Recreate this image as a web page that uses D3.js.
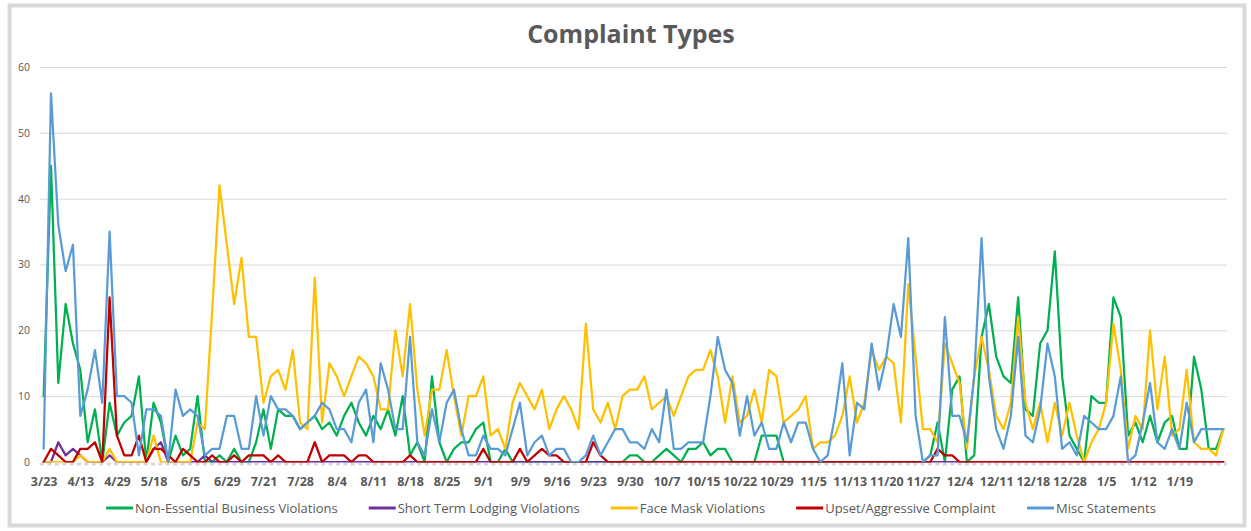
<!DOCTYPE html>
<html>
<head>
<meta charset="utf-8">
<script src="https://cdn.jsdelivr.net/npm/d3@7"></script>
<style>
  body { margin: 0; background: #fff; }
  svg { display: block; font-family: "Open Sans", sans-serif; }
</style>
</head>
<body>
<svg id="chart" width="1251" height="531"></svg>
<script>
// x axis labels, one every 5 categories
const tickLabels = ['3/23', '4/13', '4/29', '5/18', '6/5', '6/29', '7/21', '7/28', '8/4', '8/11',
  '8/18', '8/25', '9/1', '9/9', '9/16', '9/23', '9/30', '10/7', '10/15', '10/22', '10/29', '11/5',
  '11/13', '11/20', '11/27', '12/4', '12/11', '12/18', '12/28', '1/5', '1/12', '1/19'];

const nonEssential = [
  10, 45, 12, 24, 18, 14, 3, 8, 0, 9,
  4, 6, 7, 13, 0, 9, 6, 0, 4, 1,
  2, 10, 0, 0, 1, 0, 2, 0, 0, 3,
  8, 2, 8, 7, 7, 5, 6, 7, 5, 6,
  4, 7, 9, 6, 4, 7, 5, 8, 4, 10,
  1, 3, 0, 13, 3, 0, 2, 3, 3, 5,
  6, 0, 0, 2, 0, 0, 0, 0, 0, 0,
  0, 0, 0, 0, 0, 0, 0, 0, 0, 0,
  1, 1, 0, 0, 1, 2, 1, 0, 2, 2,
  3, 1, 2, 2, 0, 0, 0, 0, 4, 4,
  4, 0, 0, 0, 0, 0, 0, 0, 0, 0,
  0, 0, 0, 0, 0, 0, 0, 0, 0, 0,
  0, 1, 6, 0, 11, 13, 0, 1, 19, 24,
  16, 13, 12, 25, 8, 7, 18, 20, 32, 13,
  4, 2, 0, 10, 9, 9, 25, 22, 4, 6,
  3, 7, 3, 6, 7, 2, 2, 16, 11, 2,
  2, 5];

const shortTerm = [
  0, 0, 3, 1, 2, 1, 0, 0, 0, 1,
  0, 0, 0, 0, 0, 2, 3, 0, 0, 0,
  0, 0, 1, 0, 0, 0, 0, 0, 0, 0,
  0, 0, 0, 0, 0, 0, 0, 0, 0, 0,
  0, 0, 0, 0, 0, 0, 0, 0, 0, 0,
  0, 0, 0, 0, 0, 0, 0, 0, 0, 0,
  0, 0, 0, 0, 0, 0, 0, 0, 0, 0,
  0, 0, 0, 0, 0, 0, 0, 0, 0, 0,
  0, 0, 0, 0, 0, 0, 0, 0, 0, 0,
  0, 0, 0, 0, 0, 0, 0, 0, 0, 0,
  0, 0, 0, 0, 0, 0, 0, 0, 0, 0,
  0, 0, 0, 0, 0, 0, 0, 0, 0, 0,
  0, 0, 0, 0, 0, 0, 0, 0, 0, 0,
  0, 0, 0, 0, 0, 0, 0, 0, 0, 0,
  0, 0, 0, 0, 0, 0, 0, 0, 0, 0,
  0, 0, 0, 0, 0, 0, 0, 0, 0, 0,
  0, 0];

const faceMask = [
  0, 0, 0, 0, 0, 1, 0, 0, 0, 2,
  0, 0, 0, 0, 0, 4, 0, 0, 0, 0,
  0, 6, 5, 23, 42, 33, 24, 31, 19, 19,
  9, 13, 14, 11, 17, 6, 5, 28, 6, 15,
  13, 10, 13, 16, 15, 13, 8, 8, 20, 13,
  24, 11, 4, 11, 11, 17, 10, 4, 10, 10,
  13, 4, 5, 2, 9, 12, 10, 8, 11, 5,
  8, 10, 8, 5, 21, 8, 6, 9, 5, 10,
  11, 11, 13, 8, 9, 10, 7, 10, 13, 14,
  14, 17, 13, 6, 13, 6, 7, 11, 6, 14,
  13, 6, 7, 8, 10, 2, 3, 3, 4, 7,
  13, 6, 9, 17, 14, 16, 15, 6, 27, 16,
  5, 5, 3, 18, 15, 12, 2, 13, 19, 14,
  7, 5, 9, 22, 9, 5, 9, 3, 9, 4,
  9, 4, 0, 3, 5, 9, 21, 14, 2, 7,
  5, 20, 8, 16, 4, 5, 14, 3, 2, 2,
  1, 5];

const upset = [
  0, 2, 1, 0, 0, 2, 2, 3, 0, 25,
  4, 1, 1, 4, 0, 2, 2, 1, 0, 2,
  1, 0, 0, 1, 0, 0, 1, 0, 1, 1,
  1, 0, 1, 0, 0, 0, 0, 3, 0, 1,
  1, 1, 0, 1, 1, 0, 0, 0, 0, 0,
  1, 0, 0, 0, 0, 0, 0, 0, 0, 0,
  2, 0, 0, 0, 0, 2, 0, 1, 2, 1,
  1, 0, 0, 0, 0, 3, 1, 0, 0, 0,
  0, 0, 0, 0, 0, 0, 0, 0, 0, 0,
  0, 0, 0, 0, 0, 0, 0, 0, 0, 0,
  0, 0, 0, 0, 0, 0, 0, 0, 0, 0,
  0, 0, 0, 0, 0, 0, 0, 0, 0, 0,
  0, 0, 2, 1, 1, 0, 0, 0, 0, 0,
  0, 0, 0, 0, 0, 0, 0, 0, 0, 0,
  0, 0, 0, 0, 0, 0, 0, 0, 0, 0,
  0, 0, 0, 0, 0, 0, 0, 0, 0, 0,
  0, 0];

const misc = [
  2, 56, 36, 29, 33, 7, 11, 17, 9, 35,
  10, 10, 9, 1, 8, 8, 7, 0, 11, 7,
  8, 7, 1, 2, 2, 7, 7, 2, 2, 10,
  4, 10, 8, 8, 7, 5, 6, 7, 9, 8,
  5, 5, 3, 9, 11, 3, 15, 11, 5, 5,
  19, 3, 1, 8, 3, 9, 11, 5, 1, 1,
  4, 2, 2, 1, 5, 9, 1, 3, 4, 1,
  2, 2, 0, 0, 1, 4, 1, 3, 5, 5,
  3, 3, 2, 5, 3, 11, 2, 2, 3, 3,
  3, 10, 19, 14, 12, 4, 10, 4, 6, 2,
  2, 6, 3, 6, 6, 2, 0, 1, 7, 15,
  1, 9, 8, 18, 11, 16, 24, 19, 34, 7,
  0, 1, 1, 22, 7, 7, 3, 13, 34, 13,
  5, 2, 7, 19, 4, 3, 8, 18, 13, 2,
  3, 1, 7, 6, 5, 5, 7, 13, 0, 1,
  6, 12, 3, 2, 5, 2, 9, 3, 5, 5,
  5, 5];

const yTicks = [0, 10, 20, 30, 40, 50, 60];

const series = [
  {name: 'Non-Essential Business Violations', values: nonEssential, color: '#00b050'},
  {name: 'Short Term Lodging Violations', values: shortTerm, color: '#7030a0'},
  {name: 'Face Mask Violations', values: faceMask, color: '#ffc000'},
  {name: 'Upset/Aggressive Complaint', values: upset, color: '#c00000'},
  {name: 'Misc Statements', values: misc, color: '#5b9bd5'}
];

const W = 1251, H = 531;
const plot = {left: 40, right: 1227, top: 67, bottom: 462};
const textColor = '#595959';

const svg = d3.select('#chart');

// outer frame
svg.append('rect')
  .attr('x', 9.5).attr('y', 5.5)
  .attr('width', W - 16).attr('height', H - 11)
  .attr('fill', '#fff')
  .attr('stroke', '#d9d9d9')
  .attr('stroke-width', 4);

// title
svg.append('text')
  .attr('x', 631).attr('y', 43)
  .attr('text-anchor', 'middle')
  .style('font-size', '25px')
  .style('font-weight', 'bold')
  .attr('fill', textColor)
  .text('Complaint Types');

const categories = d3.range(misc.length);

const x = d3.scalePoint()
  .domain(categories)
  .range([plot.left, plot.right])
  .padding(0.5);

const y = d3.scaleLinear()
  .domain([0, 60])
  .range([plot.bottom, plot.top]);

// gridlines + y labels
svg.append('g')
  .attr('transform', 'translate(' + plot.left + ',0)')
  .call(d3.axisLeft(y).tickValues(yTicks).tickSize(-(plot.right - plot.left)).tickPadding(10))
  .call(g => g.select('.domain').remove())
  .call(g => g.selectAll('.tick line')
    .attr('stroke', '#d9d9d9')
    .attr('stroke-width', 1)
    .attr('display', d => d === 0 ? 'none' : null))
  .call(g => g.selectAll('.tick text')
    .attr('fill', textColor)
    .style('font-size', '10.5px')
    .style('font-family', '"Open Sans", sans-serif'));

// x axis: dashed baseline + labels
svg.append('line')
  .attr('x1', plot.left).attr('x2', plot.right)
  .attr('y1', plot.bottom + 2).attr('y2', plot.bottom + 2)
  .attr('stroke', '#d9d9d9')
  .attr('stroke-width', 3)
  .attr('stroke-dasharray', '4 3.4');

svg.append('g')
  .attr('transform', 'translate(0,' + (plot.bottom + 12) + ')')
  .call(d3.axisBottom(x)
    .tickValues(categories.filter(d => d % 5 === 0))
    .tickFormat(d => tickLabels[d / 5])
    .tickSize(0))
  .call(g => g.select('.domain').remove())
  .call(g => g.selectAll('.tick text')
    .attr('fill', textColor)
    .style('font-size', '12.5px')
    .style('font-weight', 'bold')
    .style('font-family', '"Open Sans", sans-serif'));

// clip so lines sitting on zero show only their upper half, like the original
svg.append('clipPath').attr('id', 'plotClip')
  .append('rect')
  .attr('x', 0).attr('y', 0)
  .attr('width', W).attr('height', plot.bottom + 0.5);

const line = d3.line()
  .x((d, i) => x(i))
  .y(d => y(d));

svg.append('g')
  .attr('clip-path', 'url(#plotClip)')
  .selectAll('path')
  .data(series)
  .enter()
  .append('path')
  .attr('d', d => line(d.values))
  .attr('fill', 'none')
  .attr('stroke', d => d.color)
  .attr('stroke-width', 2.25)
  .attr('stroke-linejoin', 'round')
  .attr('stroke-linecap', 'round');

// legend, centred under the plot
const legend = svg.append('g');
const items = legend.selectAll('g')
  .data(series)
  .enter()
  .append('g');

items.append('line')
  .attr('x1', 0).attr('x2', 27)
  .attr('y1', 0).attr('y2', 0)
  .attr('stroke', d => d.color)
  .attr('stroke-width', 3);

items.append('text')
  .attr('x', 29).attr('y', 4.5)
  .attr('fill', textColor)
  .style('font-size', '13px')
  .text(d => d.name);

const widths = [];
items.each(function () {
  widths.push(this.getBBox().width);
});
const gap = 31;
const total = d3.sum(widths) + gap * (widths.length - 1);
let start = 631 - total / 2;
items.attr('transform', (d, i) => {
  const tx = start;
  start += widths[i] + gap;
  return 'translate(' + tx + ',508)';
});
</script>
</body>
</html>
